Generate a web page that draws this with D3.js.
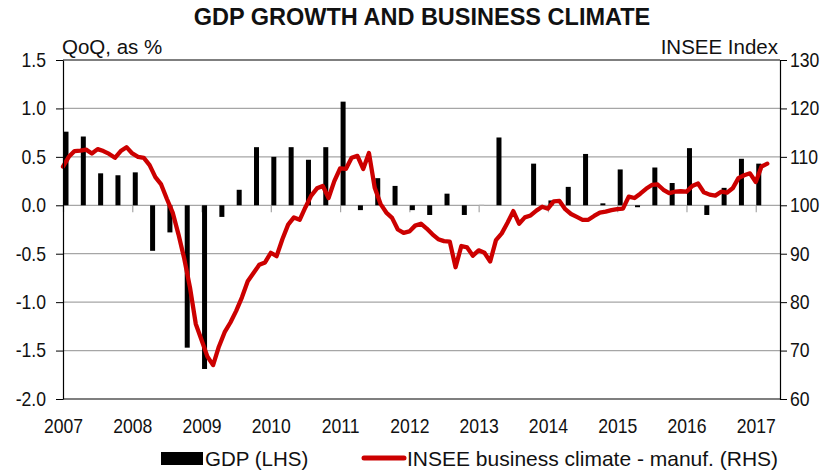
<!DOCTYPE html>
<html>
<head>
<meta charset="utf-8">
<script src="https://cdn.jsdelivr.net/npm/d3@7"></script>
<style>
  html, body { margin: 0; padding: 0; background: #fff; }
  svg { display: block; font-family: "Liberation Sans", Arial, sans-serif; }
  /* tick labels in the source are a bit condensed */
  .tick text { transform-box: fill-box; }
  .axis-left .tick text { transform-origin: 100% 50%; transform: scaleX(0.88); }
  .axis-right .tick text { transform-origin: 0% 50%; transform: scaleX(0.88); }
  .axis-bottom .tick text { transform-origin: 50% 50%; transform: scaleX(0.88); }
</style>
</head>
<body>
<svg id="chart"></svg>
<script>
// quarterly GDP growth, QoQ %, starting 2007 Q1
const gdpStart = 2007;
const gdp = [
    0.76, 0.71, 0.33, 0.31,
    0.34, -0.47, -0.28, -1.47,
    -1.69, -0.12, 0.16, 0.60,
    0.50, 0.60, 0.47, 0.60,
    1.07, -0.05, 0.28, 0.20,
    -0.05, -0.10, 0.12, -0.10,
    0.01, 0.70, 0.01, 0.43,
    0.05, 0.19, 0.53, 0.02,
    0.37, -0.02, 0.39, 0.23,
    0.59, -0.10, 0.18, 0.48,
    0.43
];

// INSEE business climate in manufacturing, monthly, starting Jan 2007
const climateStart = 2007;
const climate = [
    108.0, 110.0, 111.2, 111.3, 111.5, 110.7, 111.6, 111.2, 110.6, 109.8, 111.2, 112.0,
    110.7, 110.0, 109.8, 108.3, 105.8, 104.3, 101.3, 98.5, 94.0, 89.0, 83.0, 75.5,
    72.2, 68.8, 67.0, 70.8, 73.8, 75.8, 78.2, 81.0, 84.3, 86.0, 87.7, 88.2,
    90.2, 89.5, 93.0, 96.0, 97.5, 97.0, 99.6, 102.0, 103.5, 104.0, 101.5, 105.0,
    107.6, 107.5, 109.8, 110.2, 107.5, 110.8, 103.6, 100.3, 98.5, 97.4, 95.0, 94.3,
    94.6, 95.8, 96.2, 95.2, 94.0, 93.0, 92.6, 92.5, 87.2, 91.6, 91.3, 89.6,
    90.7, 90.2, 88.4, 92.8, 94.2, 96.4, 98.8, 96.2, 97.5, 97.9, 98.9, 99.7,
    99.3, 100.8, 100.9, 99.2, 98.2, 97.6, 97.0, 97.0, 97.8, 98.5, 98.7, 99.0,
    99.2, 99.3, 101.8, 101.5, 102.4, 103.4, 104.2, 104.3, 103.2, 102.5, 102.8, 102.9,
    102.8, 104.0, 104.5, 102.7, 102.2, 102.0, 102.8, 102.6, 103.5, 105.6, 106.2, 106.6,
    104.8, 108.0, 108.6
];

const years = [2007, 2008, 2009, 2010, 2011, 2012, 2013, 2014, 2015, 2016, 2017];
const leftTicks = [-2.0, -1.5, -1.0, -0.5, 0.0, 0.5, 1.0, 1.5];
const rightTicks = [60, 70, 80, 90, 100, 110, 120, 130];

const width = 835;
const height = 472;
const margin = {top: 60, right: 55, bottom: 73, left: 63};

const svg = d3.select("#chart")
    .attr("width", width)
    .attr("height", height);

const x = d3.scaleLinear()
    .domain([2007, 2017.35])
    .range([margin.left, width - margin.right]);

const yL = d3.scaleLinear()
    .domain([-2, 1.5])
    .range([height - margin.bottom, margin.top]);

const yR = d3.scaleLinear()
    .domain([60, 130])
    .range([height - margin.bottom, margin.top]);

const x0 = x.range()[0], x1 = x.range()[1];

// gridlines
svg.append("g")
    .selectAll("line")
    .data(leftTicks.filter(d => d > -2 && d < 1.5))
    .enter()
    .append("line")
    .attr("x1", x0)
    .attr("x2", x1)
    .attr("y1", d => yL(d))
    .attr("y2", d => yL(d))
    .attr("stroke", "#a6a6a6")
    .attr("stroke-width", 1.2);

// year ticks hanging off the zero line
svg.append("g")
    .attr("transform", `translate(0,${yL(0)})`)
    .call(d3.axisBottom(x).tickValues(years).tickSize(7).tickFormat(""))
    .call(g => g.select(".domain").remove())
    .call(g => g.selectAll("line").attr("stroke", "#a6a6a6").attr("stroke-width", 1.2));

// bars
svg.append("g")
    .selectAll("rect")
    .data(gdp)
    .enter()
    .append("rect")
    .attr("x", (d, i) => x(gdpStart + i * 0.25) + 0.5)
    .attr("width", 5)
    .attr("y", d => Math.min(yL(d), yL(0)))
    .attr("height", d => Math.max(1, Math.abs(yL(d) - yL(0))))
    .attr("fill", d => Math.abs(d) < 0.015 ? "#d0d0d0" : "#000");

// climate line
const line = d3.line()
    .x((d, i) => x(climateStart + i / 12))
    .y(d => yR(d))
    .curve(d3.curveLinear);

svg.append("path")
    .datum(climate)
    .attr("d", line)
    .attr("fill", "none")
    .attr("stroke", "#cc0000")
    .attr("stroke-width", 4.3)
    .attr("stroke-linejoin", "round")
    .attr("stroke-linecap", "round");

// frame
svg.append("line")
    .attr("x1", x0).attr("x2", x1)
    .attr("y1", margin.top).attr("y2", margin.top)
    .attr("stroke", "#555").attr("stroke-width", 1.5);
svg.append("line")
    .attr("x1", x0).attr("x2", x1)
    .attr("y1", yL(-2)).attr("y2", yL(-2))
    .attr("stroke", "#000").attr("stroke-width", 1.2);

// left axis
svg.append("g")
    .attr("class", "axis-left")
    .attr("transform", `translate(${x0},0)`)
    .call(d3.axisLeft(yL).tickValues(leftTicks).tickSize(7).tickSizeOuter(0).tickPadding(10)
        .tickFormat(d => d.toFixed(1)))
    .call(g => g.select(".domain").attr("stroke", "#000").attr("stroke-width", 1.2))
    .call(g => g.selectAll("line").attr("stroke", "#000"))
    .call(g => g.selectAll("text").attr("font-size", 20).attr("fill", "#111")
        .attr("font-family", "Liberation Sans, Arial, sans-serif"));

// right axis
svg.append("g")
    .attr("class", "axis-right")
    .attr("transform", `translate(${x1},0)`)
    .call(d3.axisRight(yR).tickValues(rightTicks).tickSize(7).tickSizeOuter(0).tickPadding(3))
    .call(g => g.select(".domain").attr("stroke", "#000").attr("stroke-width", 1.2))
    .call(g => g.selectAll("line").attr("stroke", "#000"))
    .call(g => g.selectAll("text").attr("font-size", 20).attr("fill", "#111")
        .attr("font-family", "Liberation Sans, Arial, sans-serif"));

// x axis labels
svg.append("g")
    .attr("class", "axis-bottom")
    .attr("transform", `translate(0,${yL(-2)})`)
    .call(d3.axisBottom(x).tickValues(years).tickSize(0).tickPadding(20).tickFormat(d3.format("d")))
    .call(g => g.select(".domain").remove())
    .call(g => g.selectAll("text").attr("font-size", 20).attr("fill", "#111")
        .attr("font-family", "Liberation Sans, Arial, sans-serif"));

// title and axis captions
svg.append("text")
    .attr("x", 422)
    .attr("y", 25)
    .attr("text-anchor", "middle")
    .attr("font-weight", "bold")
    .attr("font-size", 23.5)
    .attr("fill", "#111")
    .text("GDP GROWTH AND BUSINESS CLIMATE");

svg.append("text")
    .attr("x", 62)
    .attr("y", 54)
    .attr("font-size", 20.5)
    .attr("fill", "#111")
    .text("QoQ, as %");

svg.append("text")
    .attr("x", 778)
    .attr("y", 54)
    .attr("text-anchor", "end")
    .attr("font-size", 20.5)
    .attr("fill", "#111")
    .text("INSEE Index");

// legend
const legend = svg.append("g");
legend.append("rect")
    .attr("x", 161).attr("y", 452)
    .attr("width", 42).attr("height", 13)
    .attr("fill", "#000");
legend.append("text")
    .attr("x", 205).attr("y", 466)
    .attr("font-size", 20.5)
    .attr("fill", "#111")
    .text("GDP (LHS)");
legend.append("line")
    .attr("x1", 364).attr("x2", 404)
    .attr("y1", 458).attr("y2", 458)
    .attr("stroke", "#cc0000")
    .attr("stroke-width", 5)
    .attr("stroke-linecap", "round");
legend.append("text")
    .attr("x", 407).attr("y", 466)
    .attr("font-size", 21)
    .attr("fill", "#111")
    .text("INSEE business climate - manuf. (RHS)");
</script>
</body>
</html>
